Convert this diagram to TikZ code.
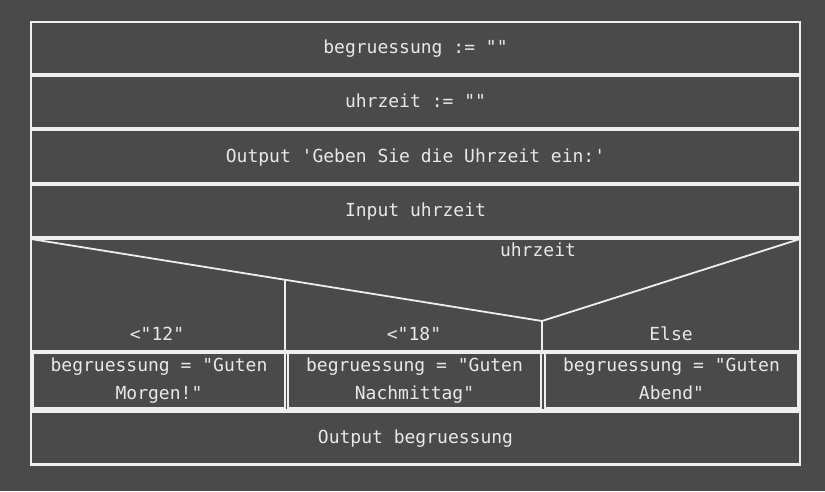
\documentclass[tikz,border=0pt]{standalone}
\usepackage{fontspec}
\newfontfamily\codefont{DejaVu Sans Mono}
\usetikzlibrary{positioning}
\definecolor{bgdark}{HTML}{4A4A4A}
\definecolor{lineclr}{HTML}{EEEEEE}
\definecolor{textclr}{HTML}{E8E8E8}
\tikzset{
    code/.style={text=textclr, font=\codefont\fontsize{18}{28}\selectfont, inner sep=0pt},
    box/.style={code, draw=lineclr, line width=2.1pt, minimum width=769pt, minimum height=52pt},
    row/.style={box, execute at begin node=\strut},
    branch/.style={box, minimum width=252pt, minimum height=56pt, align=center},
    caseline/.style={draw=lineclr, line width=1.8pt},
}
\begin{document}
\begin{tikzpicture}[x=1pt, y=-1pt]
                \fill[bgdark] (0,0) rectangle (825,491);
                \useasboundingbox (0,0) rectangle (825,491);
                \node[row] (r1) at (415.5,48) {begruessung := ""};
                \node[row, below=0pt of r1] (r2) {uhrzeit := ""};
                \node[row, minimum height=53pt, below=0pt of r2] (r3) {Output \textquotesingle Geben Sie die Uhrzeit ein:\textquotesingle};
                \node[row, below=0pt of r3] (r4) {Input uhrzeit};
                \node[row, minimum height=112pt, below=0pt of r4] (casehead) {};
                \node[row, minimum height=58pt, outer sep=0pt, below=0pt of casehead] (casebody) {};
                \node[row, minimum height=53pt, below=0pt of casebody] (out) {Output begruessung};
                \coordinate (apex) at (542,321);
                \coordinate (split) at (285,280);
                \draw[caseline] (31,239) -- (apex) -- (800,239);
                \draw[caseline] (split) -- (split |- casehead.center) -- (285,350);
                \draw[caseline] (apex) -- (542,350);
                \node[code] (sel) at (538,250) {uhrzeit};
                \node[code] (c1) at (157,334) {<"12"};
                \node[code] (c2) at (414,334) {<"18"};
                \node[code] (c3) at (671,334) {Else};
                \node[branch] (b1) at (159,380) {\strut begruessung = "Guten\\Morgen!"\strut};
                \node[branch, minimum width=253pt] (b2) at (414.5,380) {\strut begruessung = "Guten\\Nachmittag"\strut};
                \node[branch, minimum width=253pt] (b3) at (671.5,380) {\strut begruessung = "Guten\\Abend"\strut};
            \end{tikzpicture}
\end{document}
